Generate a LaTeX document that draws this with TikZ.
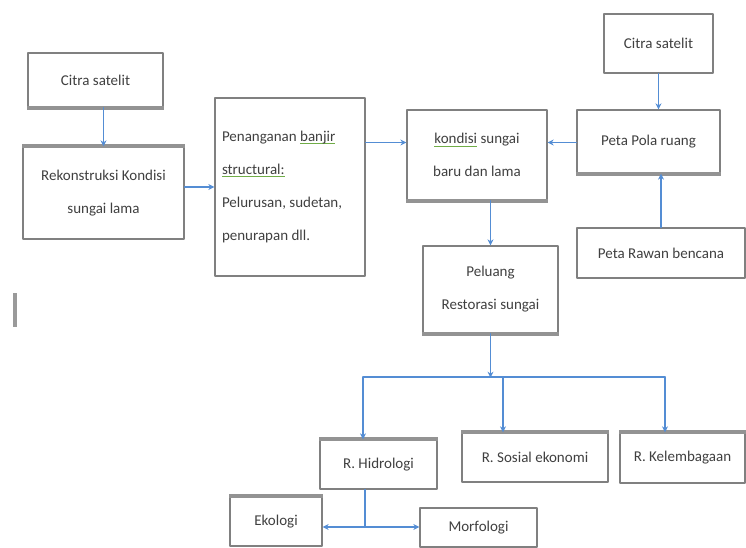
\documentclass[tikz,border=0pt]{standalone}
\usepackage{fontspec}
\usetikzlibrary{arrows.meta}
\setmainfont{Carlito}
\definecolor{panah}{RGB}{84,141,212}
\definecolor{garis}{RGB}{128,128,128}
\definecolor{teks}{RGB}{64,64,64}
\definecolor{hijau}{RGB}{112,173,71}
\newcommand{\garisbawah}[1]{\leavevmode\setbox0\hbox{#1}\rlap{\color{hijau}\rule[-3pt]{\wd0}{1pt}}\box0\relax}
\begin{document}
\begin{tikzpicture}[x=1pt,y=-1pt,line cap=round,line join=round,>={Stealth[length=6pt,width=6pt]},
	kotak/.style={draw=garis,line width=1.3pt,fill=white,text=teks,inner sep=2pt,align=center,font=\fontsize{15}{33}\selectfont},
	tepi/.style={garis!85,line width=4pt,line cap=butt},
	alur/.style={panah,line width=1.4pt}]
		\fill[white] (0,0) rectangle (746,548);
		\useasboundingbox (0,0) rectangle (746,548);
		\node[kotak,minimum width=135,minimum height=54] (citra1) at (95.5,80) {Citra satelit};
		\node[kotak,minimum width=161,minimum height=92] (rekon) at (103.5,193) {Rekonstruksi Kondisi\\sungai lama};
		\node[kotak,minimum width=150,minimum height=178,align=flush left,text width=136] (tangan) at (290,187) {Penanganan \garisbawah{banjir}\\\garisbawah{structural:}\\Pelurusan, sudetan,\\penurapan dll.};
		\node[kotak,minimum width=140,minimum height=90] (kondisi) at (477,155) {\garisbawah{kondisi} sungai\\baru dan lama};
		\node[kotak,minimum width=109,minimum height=59] (citra2) at (658.5,43.5) {Citra satelit};
		\node[kotak,minimum width=143,minimum height=63] (pola) at (648.5,141.5) {Peta Pola ruang};
		\node[kotak,minimum width=168,minimum height=50] (rawan) at (661,253) {Peta Rawan bencana};
		\node[kotak,minimum width=135,minimum height=87] (peluang) at (490.5,289.5) {Peluang\\Restorasi sungai};
		\node[kotak,minimum width=117,minimum height=49] (hidro) at (378.5,464.5) {R. Hidrologi};
		\node[kotak,minimum width=146,minimum height=49] (sosial) at (535,457.5) {R. Sosial ekonomi};
		\node[kotak,minimum width=125,minimum height=50] (lembaga) at (682.5,458) {R. Kelembagaan};
		\node[kotak,minimum width=92,minimum height=49] (ekologi) at (276,521.5) {Ekologi};
		\node[kotak,minimum width=117,minimum height=39] (morfo) at (478.5,527.5) {Morfologi};
		\foreach \n/\p/\q in {citra1/south west/south east,rekon/north west/north east,kondisi/south west/south east,pola/south west/south east,peluang/south west/south east,hidro/north west/north east,sosial/north west/north east,lembaga/north west/north east,ekologi/north west/north east}
			\draw[tepi] (\n.\p) -- (\n.\q);
		\draw[alur,->] (citra1.south -| rekon.north) -- (rekon.north);
		\draw[alur,->] (rekon.east |- tangan.west) -- (tangan.west);
		\draw[alur,->] (tangan.east |- kondisi.170) -- (kondisi.170);
		\draw[alur,->] (pola.west |- kondisi.10) -- (kondisi.10);
		\draw[alur,->] (citra2.south) -- (citra2.south |- pola.north);
		\draw[alur,->] (rawan.north) -- (rawan.north |- pola.south);
		\draw[alur,->] (kondisi.south -| peluang.north) -- (peluang.north);
		\path (peluang.south) ++(0,44) coordinate (cabang) (363,377) coordinate (ch) (503,377) coordinate (cs) (665,377) coordinate (ck) (365,527) coordinate (ct);
		\draw[alur,->] (peluang.south) -- (cabang);
		\draw[alur] (ch) -- (ck);
		\draw[alur,->] (ch) -- (ch |- hidro.north);
		\draw[alur,->] (cs) -- (cs |- sosial.north);
		\draw[alur,->] (ck) -- (ck |- lembaga.north);
		\draw[alur] (ct |- hidro.south) -- (ct);
		\draw[alur,->] (ct) -- (ct -| ekologi.east);
		\draw[alur,->] (ct) -- (ct -| morfo.west);
		\fill[garis!80] (13,293) rectangle (17,327);
\end{tikzpicture}
\end{document}
